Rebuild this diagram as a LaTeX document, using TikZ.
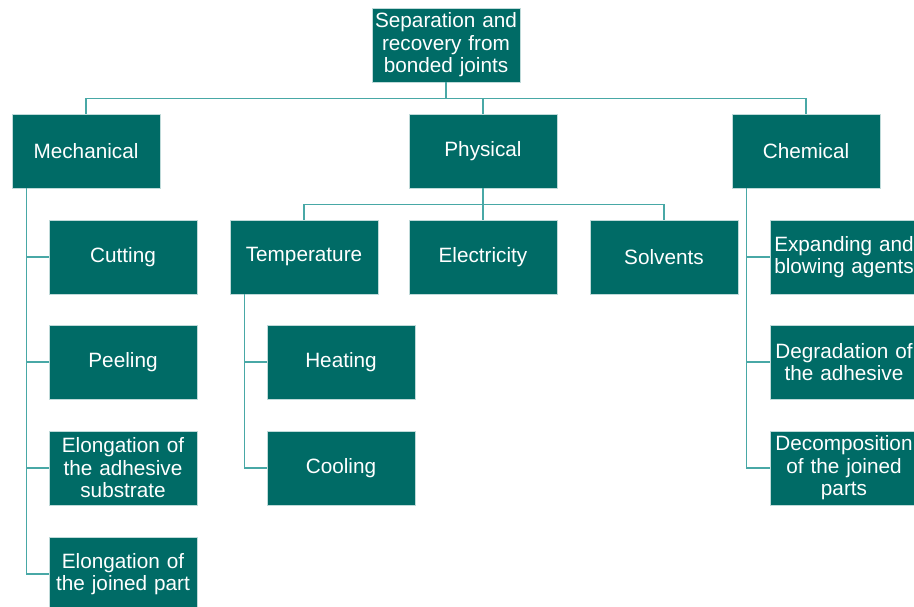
\documentclass[tikz,border=0pt]{standalone}
\usepackage{fontspec}
\setmainfont{Liberation Sans}
\usepackage{xcolor}
\definecolor{boxteal}{RGB}{0,107,102}
\definecolor{lineteal}{RGB}{72,168,166}

\begin{document}
\begin{tikzpicture}[x=0.02cm, y=-0.02cm]
        % 样式:深青色方框,白色文字
        \tikzstyle{tbox}=[rectangle, draw=white!75!boxteal, line width=0.4pt, fill=boxteal, text=white, minimum width=2.96cm, minimum height=1.48cm, text width=2.94cm, align=center, inner sep=0pt, font=\fontsize{11.8}{12.8}\selectfont]
        \tikzstyle{link}=[draw=lineteal, line width=0.9pt]

        \useasboundingbox (0,0) rectangle (914,607);

        % 顶层
        \node[tbox] (root) at (446,45) {Separation and\\recovery from\\bonded joints};

        % 第二层
        \node[tbox] (mech) at (86,151) {Mechanical};
        \node[tbox] (phys) at (483,151) {Physical};
        \node[tbox] (chem) at (806,151) {Chemical};

        % 机械方法
        \node[tbox] (cut)  at (123,257) {Cutting};
        \node[tbox] (peel) at (123,362) {Peeling};
        \node[tbox] (elad) at (123,468) {Elongation of\\the adhesive\\substrate};
        \node[tbox] (eljo) at (123,574) {Elongation of\\the joined part};

        % 物理方法
        \node[tbox] (temp) at (304,257) {Temperature};
        \node[tbox] (elec) at (483,257) {Electricity};
        \node[tbox] (solv) at (664,257) {Solvents};
        \node[tbox] (heat) at (341,362) {Heating};
        \node[tbox] (cool) at (341,468) {Cooling};

        % 化学方法
        \node[tbox] (expa) at (844,257) {Expanding and\\blowing agents};
        \node[tbox] (degr) at (844,362) {Degradation of\\the adhesive};
        \node[tbox] (deco) at (844,468) {Decomposition\\of the joined\\parts};

        % 连线
        \draw[link] (root.south) -- ++(0,16) coordinate (rb);
        \draw[link] (mech.north) |- (rb) -| (chem.north);
        \draw[link] (phys.north) -- (phys.north |- rb);

        \draw[link] (phys.south) -- ++(0,16) coordinate (pb);
        \draw[link] (temp.north) |- (pb) -| (solv.north);
        \draw[link] (pb) -- (elec.north);

        \foreach \c in {cut,peel,elad,eljo}
            \draw[link] (mech.south west) ++(15,0) |- (\c.west);
        \foreach \c in {heat,cool}
            \draw[link] (temp.south west) ++(15,0) |- (\c.west);
        \foreach \c in {expa,degr,deco}
            \draw[link] (chem.south west) ++(15,0) |- (\c.west);
    \end{tikzpicture}
\end{document}
